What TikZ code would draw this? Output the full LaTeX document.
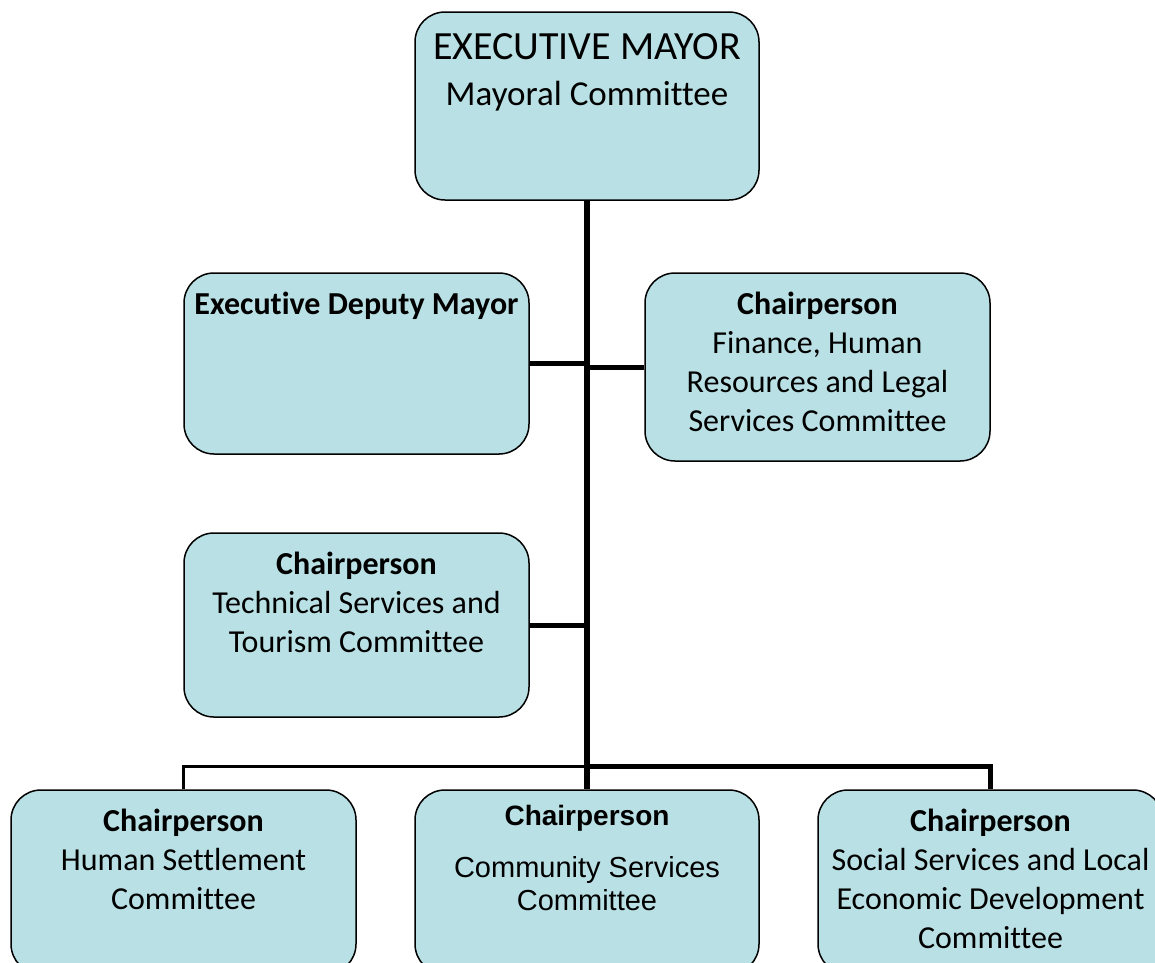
\documentclass[tikz,border=0pt]{standalone}
\usepackage{fontspec}
\setmainfont{Carlito}[Ligatures={NoCommon}]
\newfontfamily\arialfont{Liberation Sans}
\definecolor{boxfill}{RGB}{185,224,228}
\begin{document}
\begin{tikzpicture}[x=1pt,y=-1pt,
  orgbox/.style={draw=black, line width=1.5pt, fill=boxfill, rounded corners=30pt,
    minimum width=345pt, inner sep=0pt},
  boxtext/.style={anchor=north, align=center, inner sep=0pt,
    font=\fontsize{32}{39}\selectfont},
  trunk/.style={line width=6pt},
  arm/.style={line width=5pt},
  thinarm/.style={line width=3pt}]
\clip (0,0) rectangle (1155,962);

% boxes
\node[orgbox, minimum width=344pt, minimum height=188pt] (mayor) at (587,106) {};
\node[orgbox, minimum height=181pt] (deputy) at (356.5,363.5) {};
\node[orgbox, minimum height=188pt] (finance) at (817.5,367) {};
\node[orgbox, minimum height=184pt] (tech) at (356.5,625) {};
\node[orgbox, minimum height=184pt] (human) at (183.5,882) {};
\node[orgbox, minimum width=344pt, minimum height=184pt] (community) at (587,882) {};
\node[orgbox, minimum height=184pt] (social) at (990.5,882) {};

% texts
\node[boxtext, font=\fontsize{35}{46.5}\selectfont] (mayortext) at ([yshift=-22pt]mayor.north)
  {{\fontsize{40}{46.5}\selectfont EXECUTIVE MAYOR}\\Mayoral Committee};
\node[boxtext] (deputytext) at ([yshift=-20pt]deputy.north) {\textbf{Executive Deputy Mayor}};
\node[boxtext] (financetext) at ([yshift=-20pt]finance.north)
  {\textbf{Chairperson}\\Finance, Human\\Resources and Legal\\Services Committee};
\node[boxtext] (techtext) at ([yshift=-20pt]tech.north)
  {\textbf{Chairperson}\\Technical Services and\\Tourism Committee};
\node[boxtext] (humantext) at ([yshift=-20pt]human.north)
  {\textbf{Chairperson}\\Human Settlement\\Committee};
\node[boxtext, font=\arialfont\fontsize{29}{33}\selectfont] (communitytext) at ([yshift=-16pt]community.north)
  {{\fontsize{28}{33}\selectfont\bfseries Chairperson}\\[19pt]Community Services\\Committee};
\node[boxtext] (socialtext) at ([yshift=-20pt]social.north)
  {\textbf{Chairperson}\\Social Services and Local\\Economic Development\\Committee};

% connectors
\coordinate (bus) at (587,766);
\draw[trunk] (mayor.south) -- (community.north);
\draw[arm] (deputy.east) -- (deputy.east -| mayor.south);
\draw[arm] (finance.west) -- (finance.west -| mayor.south);
\draw[arm] (tech.east) -- (tech.east -| mayor.south);
\draw[thinarm] (bus) -| (human.north);
\draw[arm] (bus) -| (social.north);
\end{tikzpicture}
\end{document}
